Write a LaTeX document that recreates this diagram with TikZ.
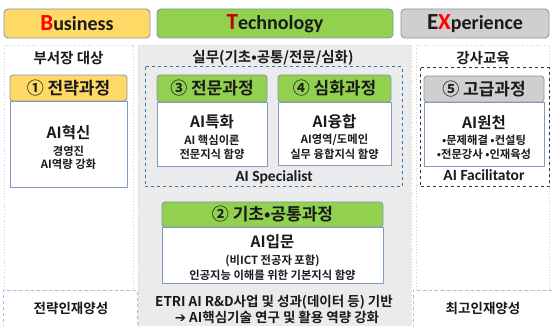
\documentclass[tikz,border=0pt]{standalone}
\usepackage{fontspec}
\setmainfont{Noto Sans CJK KR}[BoldFont={* Bold}]
\newfontfamily\hdrfont{Carlito}[BoldFont={* Bold}]
\newfontfamily\dvfont{DejaVu Sans}[BoldFont={* Bold}]
\definecolor{ybiz}{HTML}{FFD966}
\definecolor{gtech}{HTML}{92D050}
\definecolor{gexp}{HTML}{D0CECE}
\definecolor{hborder}{HTML}{8497B0}
\definecolor{bborder}{HTML}{7F9CC0}
\definecolor{panelgray}{HTML}{EBEBEB}
\definecolor{dotgray}{HTML}{CFCFCF}
\definecolor{bluedash}{HTML}{2E75B6}
\definecolor{lightblue}{HTML}{9DC3E6}
\definecolor{txt}{HTML}{1A1A1A}
\definecolor{redB}{HTML}{FF0000}
\definecolor{redT}{HTML}{C00000}
\begin{document}
\begin{tikzpicture}[x=1pt,y=-1pt,
  topbox/.style={draw=hborder, line width=0.9pt, rounded corners=4pt, inner sep=0pt},
  crshead/.style={draw=hborder, line width=0.8pt, rounded corners=3pt, inner sep=0pt, font=\bfseries\fontsize{17}{19}\selectfont, text=txt},
  crsbody/.style={draw=bborder, line width=0.8pt, fill=white, inner sep=0pt},
  panel/.style={draw=dotgray, dotted, line width=0.8pt},
  ttl/.style={font=\bfseries\fontsize{14.5}{16}\selectfont, text=txt, inner sep=0pt},
  big/.style={font=\bfseries\fontsize{15.5}{17}\selectfont, text=txt, inner sep=0pt},
  small/.style={font=\bfseries\fontsize{11.3}{13}\selectfont, text=txt, inner sep=0pt},
  bot/.style={font=\bfseries\fontsize{13.5}{15}\selectfont, text=txt, inner sep=0pt},
  lbl/.style={font=\hdrfont\bfseries\fontsize{15.5}{17}\selectfont, text=txt, inner sep=0pt},
  hword/.style={font=\hdrfont\bfseries\fontsize{20}{22}\selectfont, text=txt, inner sep=0pt}
]
\useasboundingbox (0,0) rectangle (552,326);
\fill[white] (0,0) rectangle (552,326);

% column panels
\draw[panel, fill=white] (4,45) rectangle (133,290);
\draw[panel, fill=panelgray] (138,45) rectangle (411,328);
\draw[panel, fill=white] (416,45) rectangle (549,290);
% bottom dashed boxes
\draw[lightblue, dashed, line width=0.8pt] (3,328) -- (3,290) -- (137,290) -- (137,328);
\draw[lightblue, dashed, line width=0.8pt] (413,328) -- (413,290) -- (554,290);

% top headers
\node[topbox, fill=ybiz, minimum width=146pt, minimum height=29pt] (biz) at (77,23.5) {};
\node[hword] at (biz.center) {{\fontsize{23}{24}\selectfont\color{redB}B}usiness};
\node[topbox, fill=gtech, minimum width=236pt, minimum height=29pt] (tech) at (275,23.5) {};
\node[hword] at (tech.center) {{\fontsize{23}{24}\selectfont\color{redT}T}echnology};
\node[topbox, fill=gexp, minimum width=148pt, minimum height=29pt] (exp) at (475,23.5) {};
\node[hword] at (exp.center) {{\fontsize{23}{24}\selectfont E\color{redB}X}perience};

% column titles
\node[ttl] (t1) at (68.5,58) {부서장 대상};
\node[ttl] (t2) at (273,58) {실무(기초•공통/전문/심화)};
\node[ttl] (t3) at (483,58) {강사교육};

% frames
\draw[bluedash, dashed, line width=1pt] (145,67) rectangle (402,187);
\draw[black!80, dashed, line width=1pt] (420,68) rectangle (549,187);

% course 1
\node[crsbody, minimum width=117pt, minimum height=86pt] (b1) at (68.5,144) {};
\node[crshead, fill=ybiz, minimum width=117pt, minimum height=26pt] (h1) at (68.5,88) {① 전략과정};
\node[big] at (68.5,133) {AI혁신};
\node[small] at (68.5,151) {경영진};
\node[small] at (68.5,164.5) {AI역량 강화};

% course 3
\node[crsbody, minimum width=110pt, minimum height=64pt] (b3) at (212,134) {};
\node[crshead, fill=gtech, minimum width=110pt, minimum height=27pt] (h3) at (212,88.5) {③ 전문과정};
\node[big] at (212,122) {AI특화};
\node[small] at (212,140) {AI 핵심이론};
\node[small] at (212,154) {전문지식 함양};

% course 4
\node[crsbody, minimum width=113pt, minimum height=63pt] (b4) at (334.5,133.5) {};
\node[crshead, fill=gtech, minimum width=113pt, minimum height=27pt] (h4) at (334.5,88.5) {④ 심화과정};
\node[big] at (334.5,122) {AI융합};
\node[small] at (334.5,140) {AI영역/도메인};
\node[small] at (334.5,154) {실무 융합지식 함양};

\node[lbl] (spec) at (274,177) {AI Specialist};

% course 5
\node[crsbody, minimum width=120pt, minimum height=64pt] (b5) at (484,134) {};
\node[crshead, fill=gexp, minimum width=120pt, minimum height=26pt] (h5) at (484,89) {⑤ 고급과정};
\node[big] at (484,123) {AI원천};
\node[small] at (484,140) {•문제해결 •컨설팅};
\node[small] at (484,154) {•전문강사 •인재육성};
\node[lbl] (fac) at (484,175.5) {AI Facilitator};

% course 2
\node[crsbody, minimum width=221pt, minimum height=56pt] (b2) at (272.5,255) {};
\node[crshead, fill=gtech, minimum width=221pt, minimum height=25pt] (h2) at (272.5,214.5) {② 기초•공통과정};
\node[big] at (272.5,242) {AI입문};
\node[small] at (272.5,261) {(비ICT 전공자 포함)};
\node[small] at (272.5,275) {인공지능 이해를 위한 기본지식 함양};

% bottom texts
\node[bot] (bl) at (71,308) {전략인재양성};
\node[bot] (bm1) at (274,302) {ETRI AI R\&D사업 및 성과(데이터 등) 기반};
\node[bot] (bm2) at (277,317) {{\dvfont\bfseries ➔} AI핵심기술 연구 및 활용 역량 강화};
\node[bot] (br) at (483,308) {최고인재양성};
\end{tikzpicture}
\end{document}
